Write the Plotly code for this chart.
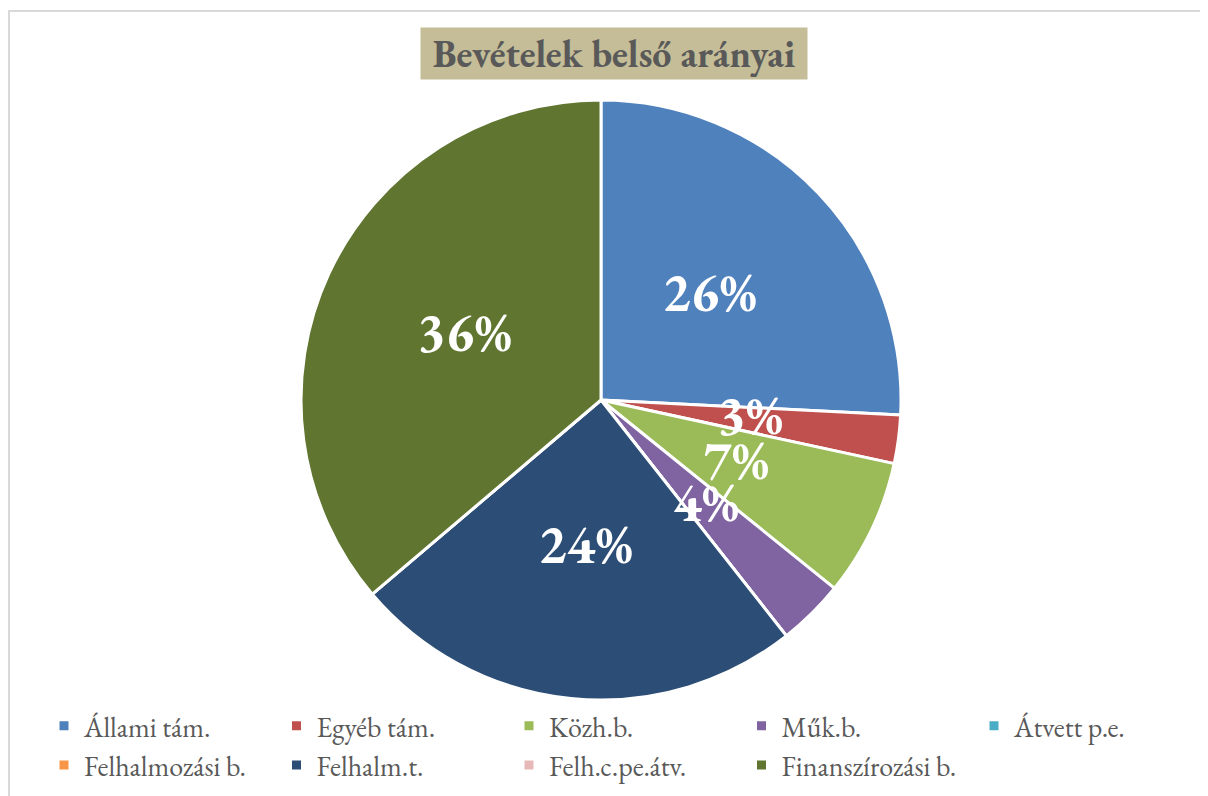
import math
import plotly.graph_objects as go

# ---- data ----
categories = ["Állami tám.", "Egyéb tám.", "Közh.b.", "Műk.b.", "Átvett p.e.",
              "Felhalmozási b.", "Felhalm.t.", "Felh.c.pe.átv.", "Finanszírozási b."]
values = [25.8, 2.6, 7.4, 3.6, 0, 0, 24.4, 0, 36.2]
colors = ["#4f81bd", "#c0504d", "#9bbb59", "#8064a2", "#4bacc6",
          "#f79646", "#2c4d75", "#e6b9b8", "#5f7530"]
title_text = "Bevételek belső arányai"

# page body has an 8px margin, so the figure is 8px smaller than the window
W, H = 1200, 788
OFF = 8
CX, CY, R = 601 - OFF, 400 - OFF, 300
FONT = "EB Garamond, Garamond, Liberation Serif, serif"

fig = go.Figure()
fig.add_trace(go.Pie(
    labels=categories, values=values, sort=False, direction="clockwise",
    rotation=0, marker=dict(colors=colors, line=dict(color="white", width=3)),
    textinfo="none", hoverinfo="label+percent",
    domain=dict(x=[(CX - R) / W, (CX + R) / W], y=[1 - (CY + R) / H, 1 - (CY - R) / H]),
))

# percentage labels placed at half radius on each slice's mid-angle
total = sum(values)
cum = 0.0
annotations = []
for v in values:
    if v > 0:
        mid = (cum + v / 2) / total * 2 * math.pi
        px = CX + 0.5 * R * math.sin(mid)
        py = CY - 0.5 * R * math.cos(mid) - 5
        annotations.append(dict(
            x=px / W, y=1 - py / H, xref="paper", yref="paper", showarrow=False,
            text=f"{round(v / total * 100)}%",
            font=dict(family=FONT, size=54, color="white", weight="bold"),
            xanchor="center", yanchor="middle"))
    cum += v

annotations.append(dict(
    x=(614 - OFF) / W, y=1 - (53.5 - OFF) / H, xref="paper", yref="paper", showarrow=False,
    text=title_text, bgcolor="#c4bd97", width=382, height=47, borderpad=2,
    font=dict(family=FONT, size=38, color="#595959", weight="bold"),
    xanchor="center", yanchor="middle"))

fig.update_layout(
    width=W, height=H, margin=dict(l=0, r=0, t=0, b=0),
    paper_bgcolor="white", plot_bgcolor="white",
    annotations=annotations,
    showlegend=True,
    legend=dict(orientation="h", x=36 / W, xanchor="left", y=1 - 693 / H, yanchor="top",
                entrywidth=187.5, entrywidthmode="pixels",
                font=dict(family=FONT, size=28, color="#595959"),
                traceorder="normal", itemclick=False),
    shapes=[dict(type="rect", xref="paper", yref="paper",
                 x0=(9 - OFF) / W, x1=1.02, y0=-0.02, y1=1 - (11 - OFF) / H,
                 line=dict(color="#d9d9d9", width=2), fillcolor="rgba(0,0,0,0)")],
)

fig.write_html("out.html")
